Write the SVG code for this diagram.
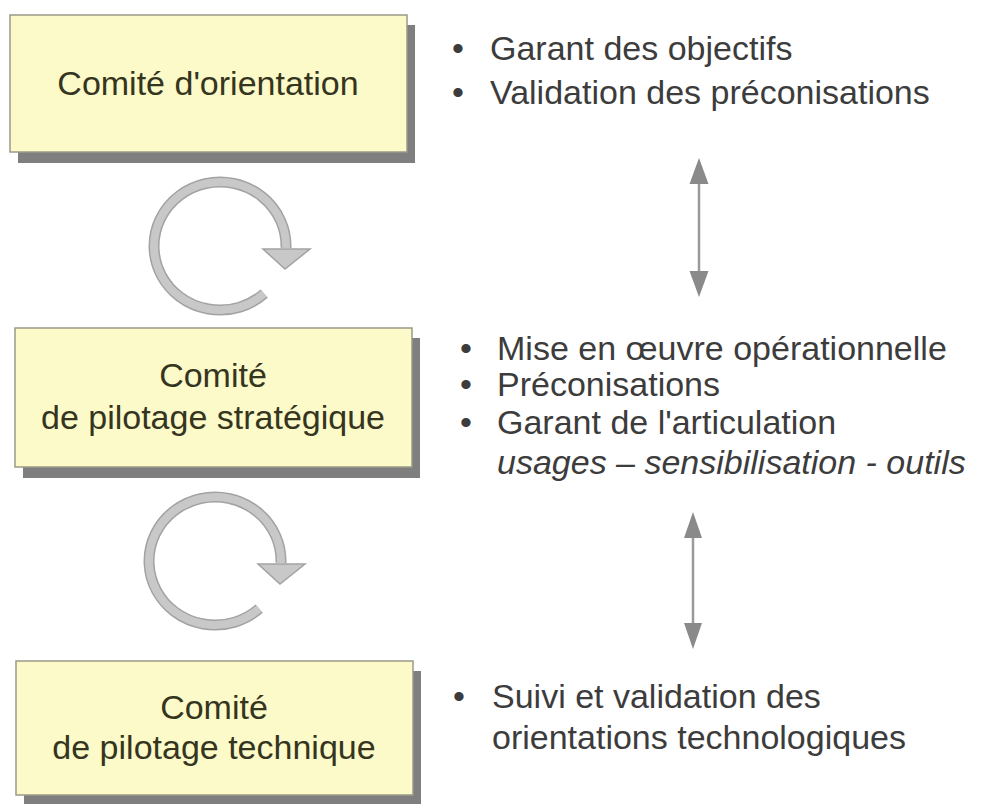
<svg xmlns="http://www.w3.org/2000/svg" width="981" height="804" viewBox="0 0 981 804">
<style>
.box{fill:#fcfac8;stroke:#9a9a88;stroke-width:1.5}
.shadow{fill:#7f7f7f}
.bt{font-family:"Liberation Sans",Arial,sans-serif;font-size:34px;fill:#35351f;text-anchor:middle}
.rt{font-family:"Liberation Sans",Arial,sans-serif;font-size:34px;fill:#3c3c3c}
.it{font-style:italic}
.ringo{fill:none;stroke:#a2a2a2;stroke-width:11}
.ringi{fill:none;stroke:#c8c8c8;stroke-width:8}
.head{fill:#c8c8c8;stroke:#a2a2a2;stroke-width:1.5;stroke-linejoin:miter}
.dl{stroke:#9a9a9a;stroke-width:2.5;fill:none}
.dh{fill:#8a8a8a}
</style>
<defs>
<g id="cycle">
<path class="ringo" d="M264.2,293.6 A66,64 0 1 1 286,248"/>
<path class="ringi" d="M264.2,293.6 A66,64 0 1 1 286,248"/>
<polygon class="head" points="263,249 310,249 285,269"/>
</g>
</defs>

<g id="node-orientation">
<rect class="shadow" x="18" y="25" width="397" height="138"/>
<rect class="box" x="10" y="15" width="397" height="137"/>
<text class="bt" x="208" y="95">Comité d'orientation</text>
</g>

<g id="node-strategique">
<rect class="shadow" x="23" y="338" width="397" height="140"/>
<rect class="box" x="15" y="328" width="397" height="139"/>
<text class="bt" x="213" y="387">Comité</text>
<text class="bt" x="213" y="429">de pilotage stratégique</text>
</g>

<g id="node-technique">
<rect class="shadow" x="24" y="671" width="397" height="135"/>
<rect class="box" x="16" y="661" width="397" height="134"/>
<text class="bt" x="214" y="719">Comité</text>
<text class="bt" x="214" y="759">de pilotage technique</text>
</g>

<g id="text-orientation">
<text class="rt" x="452" y="60">•</text>
<text class="rt" x="490" y="60">Garant des objectifs</text>
<text class="rt" x="452" y="104">•</text>
<text class="rt" x="490" y="104">Validation des préconisations</text>
</g>

<g id="text-strategique">
<text class="rt" x="460" y="360">•</text>
<text class="rt" x="497" y="360">Mise en œuvre opérationnelle</text>
<text class="rt" x="460" y="396">•</text>
<text class="rt" x="497" y="396">Préconisations</text>
<text class="rt" x="460" y="434">•</text>
<text class="rt" x="497" y="434">Garant de l'articulation</text>
<text class="rt it" x="497" y="474">usages – sensibilisation - outils</text>
</g>

<g id="text-technique">
<text class="rt" x="453" y="708">•</text>
<text class="rt" x="492" y="708">Suivi et validation des</text>
<text class="rt" x="492" y="749">orientations technologiques</text>
</g>

<g id="connectors">
<use href="#cycle"/>
<use href="#cycle" transform="translate(-5,315)"/>
<line class="dl" x1="699" y1="180" x2="699" y2="275"/>
<polygon class="dh" points="699,158 689.5,184 708.5,184"/>
<polygon class="dh" points="699,297 689.5,271 708.5,271"/>
<line class="dl" x1="693" y1="534" x2="693" y2="628"/>
<polygon class="dh" points="693,512 684,538 702,538"/>
<polygon class="dh" points="693,649 684,623 702,623"/>
</g>
</svg>
